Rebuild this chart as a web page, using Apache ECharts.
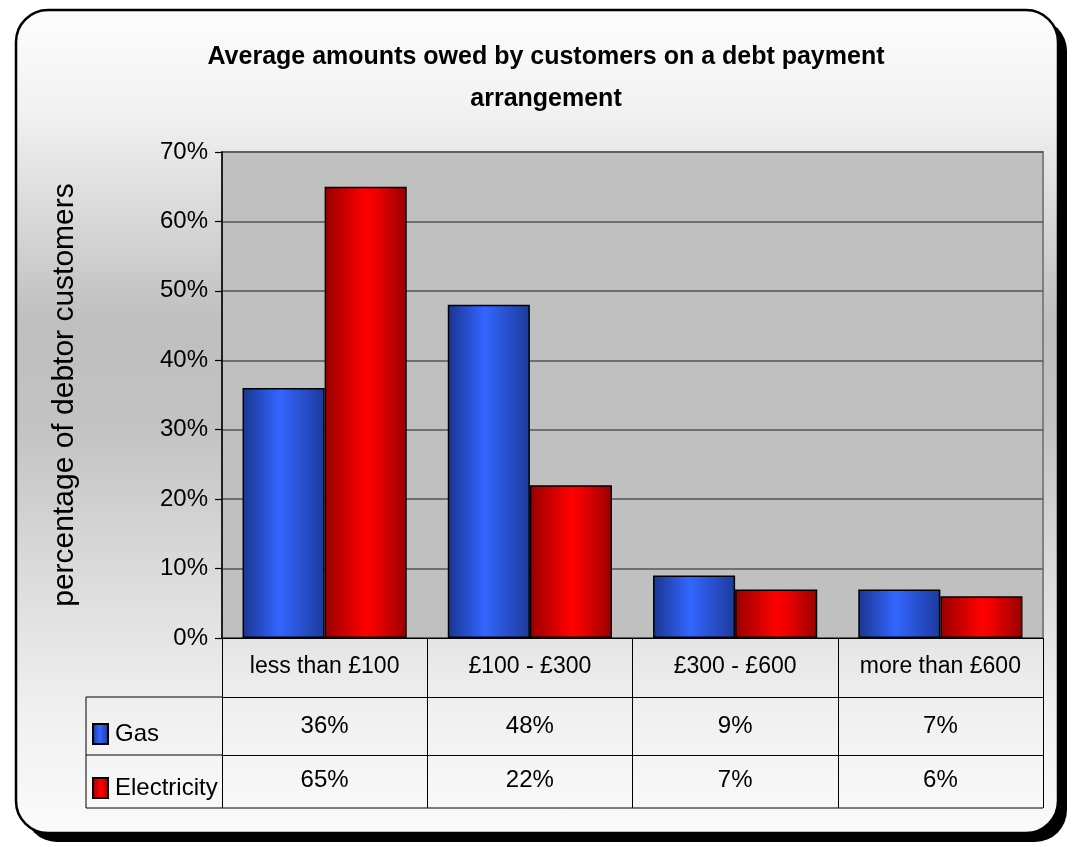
<!DOCTYPE html>
<html>
<head>
<meta charset="utf-8">
<title>Average amounts owed by customers on a debt payment arrangement</title>
<script src="https://cdn.jsdelivr.net/npm/echarts@6/dist/echarts.min.js"></script>
<style>
  html, body { margin: 0; padding: 0; background: #ffffff; }
  #chart { width: 1072px; height: 847px; }
</style>
</head>
<body>
<div id="chart"></div>
<script>
// Debt bands and the share of debtor customers in each band (%)
const categories = ['less than £100', '£100 - £300', '£300 - £600', 'more than £600'];
const gasValues = [36, 48, 9, 7];
const electricityValues = [65, 22, 7, 6];
const yTicks = [0, 10, 20, 30, 40, 50, 60, 70];

const FONT = "'Liberation Sans', Arial, sans-serif";

// plot box
const G = { left: 222, right: 29, top: 152, bottom: 209 };
const W = 1072, H = 847;
const plotRight = W - G.right;
const plotBottom = H - G.bottom;
const ROW1 = 59, ROW2 = 58, ROW3 = 53;   // table row heights
const tableLeft = 86;

const hGrad = (stops) => new echarts.graphic.LinearGradient(0, 0, 1, 0, stops);
const gasFill = hGrad([
  { offset: 0, color: '#1a3590' },
  { offset: 0.45, color: '#3366ff' },
  { offset: 1, color: '#1d3a9c' }
]);
const elecFill = hGrad([
  { offset: 0, color: '#980000' },
  { offset: 0.5, color: '#ff0000' },
  { offset: 0.62, color: '#f00000' },
  { offset: 1, color: '#980000' }
]);

const chart = echarts.init(document.getElementById('chart'), null, { renderer: 'canvas' });

const tableRowAxis = (offset, tickLen, margin, values) => ({
  type: 'category',
  gridIndex: 0,
  position: 'bottom',
  offset: offset,
  data: categories,
  axisLine: { show: true, lineStyle: { color: '#000', width: 1 } },
  axisTick: { show: true, length: tickLen, interval: 0, lineStyle: { color: '#000', width: 1 } },
  axisLabel: {
    interval: 0, margin: margin, color: '#000', fontFamily: FONT, fontSize: 24,
    formatter: (v, i) => values[i] + '%'
  },
  splitLine: { show: false }
});

const option = {
  animation: false,
  title: {
    text: 'Average amounts owed by customers on a debt payment\narrangement',
    left: 541,
    textAlign: 'center',
    top: 31,
    textStyle: { fontFamily: FONT, fontSize: 25, fontWeight: 'bold', color: '#000', lineHeight: 42 }
  },
  legend: {
    orient: 'vertical',
    left: 92,
    top: 722,
    padding: 0,
    itemWidth: 15,
    itemHeight: 20,
    itemGap: 30,
    icon: 'rect',
    textStyle: { fontFamily: FONT, fontSize: 24, color: '#000', padding: [0, 0, 0, 2] },
    data: ['Gas', 'Electricity']
  },
  grid: {
    left: G.left, right: G.right, top: G.top, bottom: G.bottom,
    show: true, backgroundColor: '#c0c0c0', borderColor: '#808080', borderWidth: 2
  },
  xAxis: [
    {
      type: 'category',
      position: 'bottom',
      data: categories,
      axisLine: { show: true, lineStyle: { color: '#000', width: 1 } },
      axisTick: { show: true, length: ROW1, interval: 0, lineStyle: { color: '#000', width: 1 } },
      axisLabel: { interval: 0, margin: 17, color: '#000', fontFamily: FONT, fontSize: 23 },
      splitLine: { show: false }
    },
    tableRowAxis(ROW1, ROW2, 17, gasValues),
    tableRowAxis(ROW1 + ROW2, ROW3, 13, electricityValues)
  ],
  yAxis: {
    type: 'value',
    min: yTicks[0],
    max: yTicks[yTicks.length - 1],
    interval: 10,
    name: 'percentage of debtor customers',
    nameLocation: 'middle',
    nameRotate: 90,
    nameGap: 142,
    nameTextStyle: { fontFamily: FONT, fontSize: 30, color: '#000' },
    axisLine: { show: true, lineStyle: { color: '#000', width: 1.5 } },
    axisTick: { show: true, inside: false, length: 7, lineStyle: { color: '#000', width: 1.2 } },
    axisLabel: { margin: 14, color: '#000', fontFamily: FONT, fontSize: 24, formatter: '{value}%' },
    splitLine: { show: true, lineStyle: { color: '#555555', width: 1.5 } }
  },
  series: [
    {
      name: 'Gas',
      type: 'bar',
      xAxisIndex: 0,
      data: gasValues,
      barGap: '0%',
      barCategoryGap: '20%',
      itemStyle: { color: gasFill, borderColor: '#000', borderWidth: 1.5 }
    },
    {
      name: 'Electricity',
      type: 'bar',
      xAxisIndex: 0,
      data: electricityValues,
      barGap: '0%',
      barCategoryGap: '20%',
      itemStyle: { color: elecFill, borderColor: '#000', borderWidth: 1.5 }
    }
  ],
  graphic: [
    // framed panel with drop shadow
    {
      type: 'rect', z: -20, silent: true,
      shape: { x: 25, y: 19, width: 1042, height: 823, r: 32 },
      style: { fill: '#000' }
    },
    {
      type: 'rect', z: -19, silent: true,
      shape: { x: 16, y: 10, width: 1042, height: 823, r: 32 },
      style: {
        fill: new echarts.graphic.LinearGradient(0, 0, 0, 1, [
          { offset: 0, color: '#fdfdfd' },
          { offset: 0.12, color: '#f2f2f2' },
          { offset: 0.38, color: '#bfbfbf' },
          { offset: 0.5, color: '#c2c2c2' },
          { offset: 0.66, color: '#d8d8d8' },
          { offset: 0.85, color: '#f0f0f0' },
          { offset: 1, color: '#fbfbfb' }
        ]),
        stroke: '#000', lineWidth: 2.5
      }
    },
    // legend column of the data table
    {
      type: 'group', z: 5, silent: true,
      children: [
        { type: 'line', shape: { x1: tableLeft, y1: plotBottom + ROW1, x2: G.left, y2: plotBottom + ROW1 }, style: { stroke: '#000', lineWidth: 1 } },
        { type: 'line', shape: { x1: tableLeft, y1: plotBottom + ROW1 + ROW2, x2: G.left, y2: plotBottom + ROW1 + ROW2 }, style: { stroke: '#000', lineWidth: 1 } },
        { type: 'line', shape: { x1: tableLeft, y1: plotBottom + ROW1 + ROW2 + ROW3, x2: plotRight, y2: plotBottom + ROW1 + ROW2 + ROW3 }, style: { stroke: '#000', lineWidth: 1 } },
        { type: 'line', shape: { x1: tableLeft, y1: plotBottom + ROW1, x2: tableLeft, y2: plotBottom + ROW1 + ROW2 + ROW3 }, style: { stroke: '#000', lineWidth: 1 } }
      ]
    }
  ]
};

chart.setOption(option);
</script>
</body>
</html>
